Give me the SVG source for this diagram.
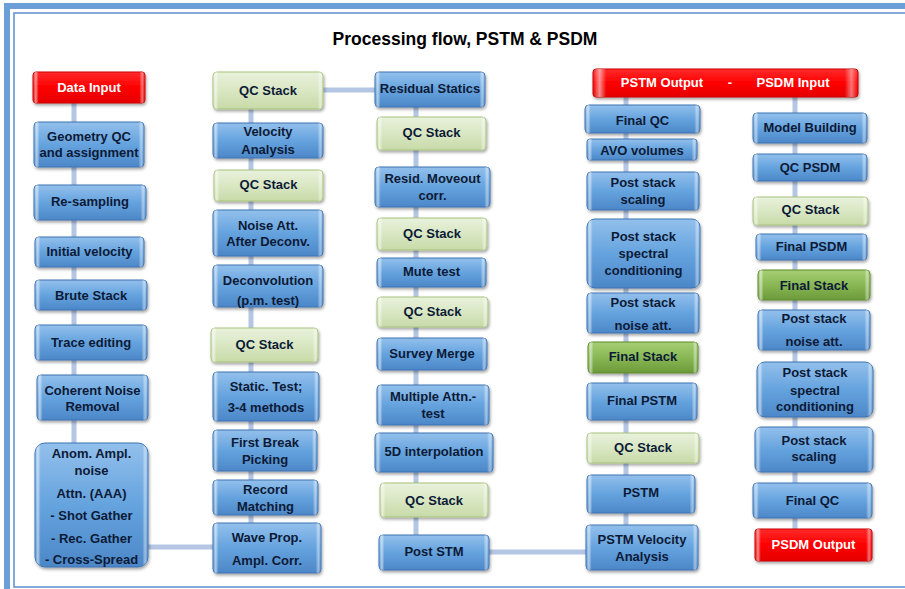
<svg xmlns="http://www.w3.org/2000/svg" width="905" height="589" viewBox="0 0 905 589">
<defs>
<linearGradient id="gB" x1="0" y1="0" x2="0" y2="1"><stop offset="0" stop-color="#93c0ec"/><stop offset="0.5" stop-color="#65a3de"/><stop offset="1" stop-color="#4c87c8"/></linearGradient>
<linearGradient id="gG" x1="0" y1="0" x2="0" y2="1"><stop offset="0" stop-color="#e9f1dc"/><stop offset="0.5" stop-color="#d9e7c3"/><stop offset="1" stop-color="#c8daa8"/></linearGradient>
<linearGradient id="gD" x1="0" y1="0" x2="0" y2="1"><stop offset="0" stop-color="#a6cf74"/><stop offset="0.5" stop-color="#88b754"/><stop offset="1" stop-color="#6c9a3a"/></linearGradient>
<linearGradient id="gR" x1="0" y1="0" x2="0" y2="1"><stop offset="0" stop-color="#ff2a2a"/><stop offset="0.5" stop-color="#ff0000"/><stop offset="1" stop-color="#e40000"/></linearGradient>
<linearGradient id="bev" x1="0" y1="0" x2="1" y2="0"><stop offset="0" stop-color="#fff" stop-opacity="0"/><stop offset="0.025" stop-color="#fff" stop-opacity="0.55"/><stop offset="0.05" stop-color="#fff" stop-opacity="0"/><stop offset="0.95" stop-color="#fff" stop-opacity="0"/><stop offset="0.975" stop-color="#fff" stop-opacity="0.45"/><stop offset="1" stop-color="#fff" stop-opacity="0"/></linearGradient>
<filter id="sh" x="-10%" y="-10%" width="120%" height="130%"><feDropShadow dx="1" dy="2" stdDeviation="1.5" flood-color="#000" flood-opacity="0.35"/></filter>
</defs>
<style>
.b{fill:url(#gB);stroke:#3c72b0;stroke-width:1;filter:url(#sh)}
.g{fill:url(#gG);stroke:#a7c27c;stroke-width:1;filter:url(#sh)}
.d{fill:url(#gD);stroke:#5c8a2e;stroke-width:1;filter:url(#sh)}
.r{fill:url(#gR);stroke:#c80000;stroke-width:1;filter:url(#sh)}
.bv{fill:url(#bev);stroke:none}
text{font-family:"Liberation Sans",Arial,sans-serif;font-weight:bold;font-size:13px;fill:#0c1a36;text-anchor:middle}
.w{fill:#fff}
.title{font-size:17.5px;fill:#000}
.conn line{stroke:#b4c6e4;stroke-width:5}
.frame1{fill:none;stroke:#6c9fd8;stroke-width:6}
.frame2{fill:none;stroke:#5b8fd0;stroke-width:1.5}
</style>
<rect width="905" height="589" fill="#fff"/>
<rect class="frame1" x="7" y="6" width="905" height="590"/>
<rect class="frame2" x="14" y="13" width="900" height="574"/>
<text class="title" x="465" y="45">Processing flow, PSTM &amp; PSDM</text>
<g id="connectors" class="conn">
<line x1="74" y1="103" x2="74" y2="443"/>
<line x1="148" y1="547" x2="213" y2="547"/>
<line x1="251" y1="109" x2="251" y2="523"/>
<line x1="323" y1="90" x2="375" y2="90"/>
<line x1="416" y1="107" x2="416" y2="535"/>
<line x1="489" y1="552" x2="586" y2="552"/>
<line x1="626" y1="97" x2="626" y2="525"/>
<line x1="795" y1="97" x2="795" y2="529"/>
</g>
<g id="data-input"><rect class="r" x="33" y="72" width="112" height="31" rx="3"/><rect class="bv" x="33" y="72" width="112" height="31" rx="3"/><text class="w" x="89" y="91.5">Data Input</text></g>
<g id="geometry-qc"><rect class="b" x="34" y="122" width="110" height="45" rx="4"/><rect class="bv" x="34" y="122" width="110" height="45" rx="4"/><text x="89" y="140.5">Geometry QC</text><text x="89" y="156.5">and assignment</text></g>
<g id="re-sampling"><rect class="b" x="34" y="185" width="112" height="35" rx="4"/><rect class="bv" x="34" y="185" width="112" height="35" rx="4"/><text x="90" y="206">Re-sampling</text></g>
<g id="initial-velocity"><rect class="b" x="35" y="237" width="109" height="30" rx="4"/><rect class="bv" x="35" y="237" width="109" height="30" rx="4"/><text x="89.5" y="256">Initial velocity</text></g>
<g id="brute-stack"><rect class="b" x="35" y="280" width="112" height="30" rx="4"/><rect class="bv" x="35" y="280" width="112" height="30" rx="4"/><text x="91" y="299.5">Brute Stack</text></g>
<g id="trace-editing"><rect class="b" x="35" y="325" width="112" height="35" rx="4"/><rect class="bv" x="35" y="325" width="112" height="35" rx="4"/><text x="91" y="347">Trace editing</text></g>
<g id="coherent-noise"><rect class="b" x="37" y="375" width="111" height="45" rx="4"/><rect class="bv" x="37" y="375" width="111" height="45" rx="4"/><text x="92.5" y="394.5">Coherent Noise</text><text x="92.5" y="411">Removal</text></g>
<g id="anom-ampl"><rect class="b" x="35" y="443" width="113" height="124" rx="10"/><rect class="bv" x="35" y="443" width="113" height="124" rx="10"/><text x="91.5" y="457.5">Anom. Ampl.</text><text x="91.5" y="474.5">noise</text><text x="91.5" y="497.5">Attn. (AAA)</text><text x="91.5" y="519.5">- Shot Gather</text><text x="91.5" y="542.5">- Rec. Gather</text><text x="91.5" y="564">- Cross-Spread</text></g>
<g id="qc-stack-1"><rect class="g" x="213" y="72" width="110" height="37" rx="4"/><rect class="bv" x="213" y="72" width="110" height="37" rx="4"/><text x="268" y="94.5">QC Stack</text></g>
<g id="velocity-analysis"><rect class="b" x="213" y="123" width="110" height="35" rx="4"/><rect class="bv" x="213" y="123" width="110" height="35" rx="4"/><text x="268" y="136">Velocity</text><text x="268" y="153.5">Analysis</text></g>
<g id="qc-stack-2"><rect class="g" x="214" y="170" width="109" height="31" rx="4"/><rect class="bv" x="214" y="170" width="109" height="31" rx="4"/><text x="268.5" y="188.5">QC Stack</text></g>
<g id="noise-att-after-deconv"><rect class="b" x="213" y="210" width="110" height="46" rx="4"/><rect class="bv" x="213" y="210" width="110" height="46" rx="4"/><text x="268" y="229.5">Noise Att.</text><text x="268" y="246">After Deconv.</text></g>
<g id="deconvolution"><rect class="b" x="213" y="265" width="110" height="42" rx="4"/><rect class="bv" x="213" y="265" width="110" height="42" rx="4"/><text x="268" y="284.5">Deconvolution</text><text x="268" y="304.5">(p.m. test)</text></g>
<g id="qc-stack-3"><rect class="g" x="211" y="328" width="107" height="34" rx="4"/><rect class="bv" x="211" y="328" width="107" height="34" rx="4"/><text x="264.5" y="348.5">QC Stack</text></g>
<g id="static-test"><rect class="b" x="213" y="372" width="106" height="49" rx="4"/><rect class="bv" x="213" y="372" width="106" height="49" rx="4"/><text x="266" y="390.5">Static. Test;</text><text x="266" y="412">3-4 methods</text></g>
<g id="first-break"><rect class="b" x="213" y="430" width="104" height="41" rx="4"/><rect class="bv" x="213" y="430" width="104" height="41" rx="4"/><text x="265" y="447">First Break</text><text x="265" y="464">Picking</text></g>
<g id="record-matching"><rect class="b" x="213" y="480" width="105" height="35" rx="4"/><rect class="bv" x="213" y="480" width="105" height="35" rx="4"/><text x="265.5" y="493.5">Record</text><text x="265.5" y="510.5">Matching</text></g>
<g id="wave-prop"><rect class="b" x="213" y="523" width="108" height="50" rx="4"/><rect class="bv" x="213" y="523" width="108" height="50" rx="4"/><text x="267" y="542">Wave Prop.</text><text x="267" y="564.5">Ampl. Corr.</text></g>
<g id="residual-statics"><rect class="b" x="375" y="72" width="110" height="35" rx="4"/><rect class="bv" x="375" y="72" width="110" height="35" rx="4"/><text x="430" y="92.5">Residual Statics</text></g>
<g id="qc-stack-4"><rect class="g" x="377" y="117" width="109" height="33" rx="4"/><rect class="bv" x="377" y="117" width="109" height="33" rx="4"/><text x="431.5" y="137">QC Stack</text></g>
<g id="resid-moveout"><rect class="b" x="375" y="167" width="115" height="40" rx="4"/><rect class="bv" x="375" y="167" width="115" height="40" rx="4"/><text x="432.5" y="182.5">Resid. Moveout</text><text x="432.5" y="199.5">corr.</text></g>
<g id="qc-stack-5"><rect class="g" x="377" y="218" width="110" height="32" rx="4"/><rect class="bv" x="377" y="218" width="110" height="32" rx="4"/><text x="432" y="237.5">QC Stack</text></g>
<g id="mute-test"><rect class="b" x="377" y="258" width="109" height="29" rx="4"/><rect class="bv" x="377" y="258" width="109" height="29" rx="4"/><text x="431.5" y="276">Mute test</text></g>
<g id="qc-stack-6"><rect class="g" x="377" y="297" width="111" height="30" rx="4"/><rect class="bv" x="377" y="297" width="111" height="30" rx="4"/><text x="432.5" y="316">QC Stack</text></g>
<g id="survey-merge"><rect class="b" x="377" y="338" width="110" height="32" rx="4"/><rect class="bv" x="377" y="338" width="110" height="32" rx="4"/><text x="432" y="357.5">Survey Merge</text></g>
<g id="multiple-attn"><rect class="b" x="377" y="385" width="112" height="40" rx="4"/><rect class="bv" x="377" y="385" width="112" height="40" rx="4"/><text x="433" y="401">Multiple Attn.-</text><text x="433" y="417.5">test</text></g>
<g id="interp-5d"><rect class="b" x="375" y="433" width="118" height="39" rx="4"/><rect class="bv" x="375" y="433" width="118" height="39" rx="4"/><text x="434" y="456">5D interpolation</text></g>
<g id="qc-stack-7"><rect class="g" x="380" y="483" width="108" height="34" rx="4"/><rect class="bv" x="380" y="483" width="108" height="34" rx="4"/><text x="434" y="504.5">QC Stack</text></g>
<g id="post-stm"><rect class="b" x="379" y="535" width="110" height="35" rx="4"/><rect class="bv" x="379" y="535" width="110" height="35" rx="4"/><text x="434" y="556">Post STM</text></g>
<g id="pstm-output-psdm-input"><rect class="r" x="593" y="69" width="265" height="28" rx="3"/><rect class="bv" x="593" y="69" width="265" height="28" rx="3"/><text class="w" x="662" y="87">PSTM Output</text><text class="w" x="730" y="87">-</text><text class="w" x="793" y="87">PSDM Input</text></g>
<g id="final-qc-pstm"><rect class="b" x="585" y="105" width="115" height="28" rx="4"/><rect class="bv" x="585" y="105" width="115" height="28" rx="4"/><text x="642.5" y="124.5">Final QC</text></g>
<g id="avo-volumes"><rect class="b" x="587" y="139" width="110" height="21" rx="3"/><rect class="bv" x="587" y="139" width="110" height="21" rx="3"/><text x="642" y="154.5">AVO volumes</text></g>
<g id="post-stack-scaling-pstm"><rect class="b" x="587" y="172" width="112" height="38" rx="4"/><rect class="bv" x="587" y="172" width="112" height="38" rx="4"/><text x="643" y="187">Post stack</text><text x="643" y="203.5">scaling</text></g>
<g id="post-stack-spectral-pstm"><rect class="b" x="587" y="219" width="113" height="69" rx="8"/><rect class="bv" x="587" y="219" width="113" height="69" rx="8"/><text x="643.5" y="240.5">Post stack</text><text x="643.5" y="257.5">spectral</text><text x="643.5" y="274.5">conditioning</text></g>
<g id="post-stack-noise-pstm"><rect class="b" x="587" y="293" width="112" height="40" rx="4"/><rect class="bv" x="587" y="293" width="112" height="40" rx="4"/><text x="643" y="307">Post stack</text><text x="643" y="329.5">noise att.</text></g>
<g id="final-stack-pstm"><rect class="d" x="588" y="342" width="110" height="31" rx="4"/><rect class="bv" x="588" y="342" width="110" height="31" rx="4"/><text x="643" y="361">Final Stack</text></g>
<g id="final-pstm"><rect class="b" x="587" y="383" width="110" height="37" rx="4"/><rect class="bv" x="587" y="383" width="110" height="37" rx="4"/><text x="642" y="404.5">Final PSTM</text></g>
<g id="qc-stack-8"><rect class="g" x="587" y="433" width="112" height="30" rx="4"/><rect class="bv" x="587" y="433" width="112" height="30" rx="4"/><text x="643" y="451.5">QC Stack</text></g>
<g id="pstm"><rect class="b" x="587" y="475" width="108" height="38" rx="4"/><rect class="bv" x="587" y="475" width="108" height="38" rx="4"/><text x="641" y="497">PSTM</text></g>
<g id="pstm-velocity"><rect class="b" x="586" y="525" width="112" height="45" rx="4"/><rect class="bv" x="586" y="525" width="112" height="45" rx="4"/><text x="642" y="543.5">PSTM Velocity</text><text x="642" y="560.5">Analysis</text></g>
<g id="model-building"><rect class="b" x="753" y="113" width="114" height="30" rx="4"/><rect class="bv" x="753" y="113" width="114" height="30" rx="4"/><text x="810" y="131.5">Model Building</text></g>
<g id="qc-psdm"><rect class="b" x="753" y="154" width="114" height="27" rx="4"/><rect class="bv" x="753" y="154" width="114" height="27" rx="4"/><text x="810" y="172">QC PSDM</text></g>
<g id="qc-stack-9"><rect class="g" x="753" y="197" width="115" height="28" rx="4"/><rect class="bv" x="753" y="197" width="115" height="28" rx="4"/><text x="810.5" y="213.5">QC Stack</text></g>
<g id="final-psdm"><rect class="b" x="756" y="234" width="111" height="26" rx="4"/><rect class="bv" x="756" y="234" width="111" height="26" rx="4"/><text x="811.5" y="251">Final PSDM</text></g>
<g id="final-stack-psdm"><rect class="d" x="758" y="270" width="112" height="30" rx="4"/><rect class="bv" x="758" y="270" width="112" height="30" rx="4"/><text x="814" y="289.5">Final Stack</text></g>
<g id="post-stack-noise-psdm"><rect class="b" x="758" y="310" width="112" height="40" rx="4"/><rect class="bv" x="758" y="310" width="112" height="40" rx="4"/><text x="814" y="322.5">Post stack</text><text x="814" y="346">noise att.</text></g>
<g id="post-stack-spectral-psdm"><rect class="b" x="757" y="362" width="116" height="55" rx="8"/><rect class="bv" x="757" y="362" width="116" height="55" rx="8"/><text x="815" y="377">Post stack</text><text x="815" y="394.5">spectral</text><text x="815" y="410.5">conditioning</text></g>
<g id="post-stack-scaling-psdm"><rect class="b" x="755" y="427" width="118" height="45" rx="6"/><rect class="bv" x="755" y="427" width="118" height="45" rx="6"/><text x="814" y="445">Post stack</text><text x="814" y="461">scaling</text></g>
<g id="final-qc-psdm"><rect class="b" x="753" y="483" width="119" height="35" rx="4"/><rect class="bv" x="753" y="483" width="119" height="35" rx="4"/><text x="812.5" y="504.5">Final QC</text></g>
<g id="psdm-output"><rect class="r" x="755" y="529" width="117" height="32" rx="3"/><rect class="bv" x="755" y="529" width="117" height="32" rx="3"/><text class="w" x="813.5" y="548.5">PSDM Output</text></g>
</svg>
